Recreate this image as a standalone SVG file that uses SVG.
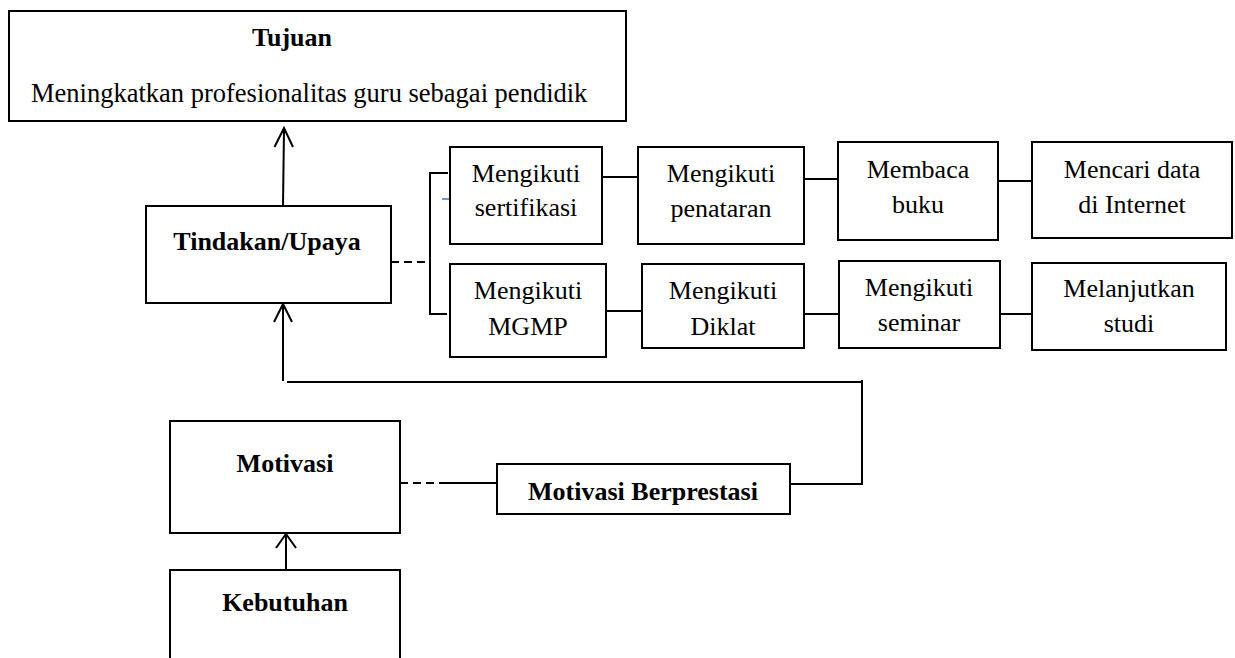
<svg xmlns="http://www.w3.org/2000/svg" width="1235" height="658" viewBox="0 0 1235 658">
<style>
.box{fill:#fff;stroke:#000;stroke-width:2}
.t{font-family:"Liberation Serif","Times New Roman",serif;font-size:26px;fill:#000;text-anchor:middle}
.b{font-weight:bold}
.ln{fill:none;stroke:#000;stroke-width:2}
.dash{fill:none;stroke:#000;stroke-width:2;stroke-dasharray:8 5}
</style>
<rect width="1235" height="658" fill="#fff"/>
<g id="connectors">
  <line class="ln" x1="283" y1="206" x2="284" y2="129"/>
  <polyline class="ln" points="274.5,147 284,128 293,147"/>
  <line class="ln" x1="283" y1="381" x2="283" y2="305"/>
  <polyline class="ln" points="274,322 283,304 292,322"/>
  <line class="ln" x1="287" y1="382" x2="862" y2="382"/>
  <line class="ln" x1="862" y1="380" x2="862" y2="485"/>
  <line class="ln" x1="790" y1="484" x2="862" y2="484"/>
  <line class="ln" x1="286" y1="570" x2="286" y2="535"/>
  <polyline class="ln" points="276,548 286,534 296,548"/>
  <line class="dash" x1="400" y1="483" x2="447" y2="483"/>
  <line class="ln" x1="447" y1="483" x2="497" y2="483"/>
  <line class="dash" x1="391" y1="262" x2="429" y2="262"/>
  <polyline class="ln" points="448,173 430,173 430,314 447,314"/>
  <line x1="442" y1="199" x2="450" y2="199" stroke="#4472C4" stroke-width="1.5"/>
  <line class="ln" x1="603" y1="177" x2="638" y2="177"/>
  <line class="ln" x1="805" y1="179" x2="838" y2="179"/>
  <line class="ln" x1="998" y1="181" x2="1032" y2="181"/>
  <line class="ln" x1="607" y1="311" x2="642" y2="311"/>
  <line class="ln" x1="805" y1="314" x2="839" y2="314"/>
  <line class="ln" x1="1001" y1="314" x2="1032" y2="314"/>
</g>
<g id="tujuan">
  <rect class="box" x="9" y="11" width="617" height="110"/>
  <text class="t b" x="292" y="46">Tujuan</text>
  <text class="t" x="31" y="102" style="text-anchor:start;font-size:26.5px">Meningkatkan profesionalitas guru sebagai pendidik</text>
</g>
<g id="tindakan">
  <rect class="box" x="146" y="206" width="245" height="97"/>
  <text class="t b" x="267" y="250">Tindakan/Upaya</text>
</g>
<g id="sertifikasi">
  <rect class="box" x="450" y="147" width="152" height="97"/>
  <text class="t" x="526" y="182">Mengikuti</text>
  <text class="t" x="526" y="216">sertifikasi</text>
</g>
<g id="penataran">
  <rect class="box" x="638" y="147" width="166" height="97"/>
  <text class="t" x="721" y="182">Mengikuti</text>
  <text class="t" x="721" y="217">penataran</text>
</g>
<g id="membaca">
  <rect class="box" x="838" y="142" width="160" height="98"/>
  <text class="t" x="918" y="178">Membaca</text>
  <text class="t" x="918" y="213">buku</text>
</g>
<g id="mencari">
  <rect class="box" x="1032" y="142" width="200" height="96"/>
  <text class="t" x="1132" y="178">Mencari data</text>
  <text class="t" x="1132" y="213">di Internet</text>
</g>
<g id="mgmp">
  <rect class="box" x="450" y="264" width="156" height="93"/>
  <text class="t" x="528" y="299">Mengikuti</text>
  <text class="t" x="528" y="335">MGMP</text>
</g>
<g id="diklat">
  <rect class="box" x="642" y="264" width="162" height="84"/>
  <text class="t" x="723" y="299">Mengikuti</text>
  <text class="t" x="723" y="335">Diklat</text>
</g>
<g id="seminar">
  <rect class="box" x="839" y="261" width="161" height="87"/>
  <text class="t" x="919" y="296">Mengikuti</text>
  <text class="t" x="919" y="331">seminar</text>
</g>
<g id="melanjutkan">
  <rect class="box" x="1032" y="263" width="194" height="87"/>
  <text class="t" x="1129" y="297">Melanjutkan</text>
  <text class="t" x="1129" y="332">studi</text>
</g>
<g id="motivasi">
  <rect class="box" x="170" y="421" width="230" height="112"/>
  <text class="t b" x="285" y="472">Motivasi</text>
</g>
<g id="berprestasi">
  <rect class="box" x="497" y="464" width="293" height="50"/>
  <text class="t b" x="643" y="500">Motivasi Berprestasi</text>
</g>
<g id="kebutuhan">
  <rect class="box" x="170" y="570" width="230" height="100"/>
  <text class="t b" x="285" y="611">Kebutuhan</text>
</g>
</svg>
